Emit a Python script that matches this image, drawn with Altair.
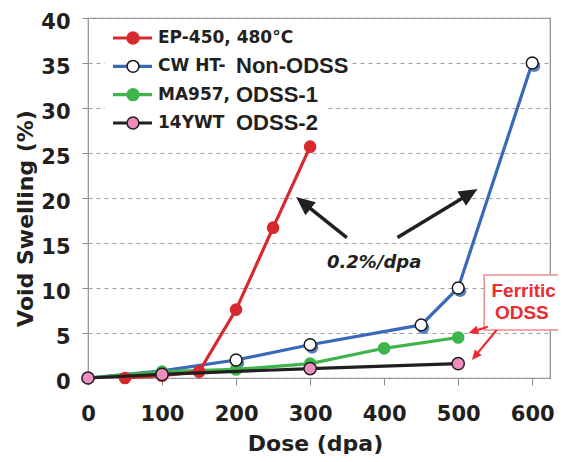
import math
import altair as alt
import pandas as pd

# ---------------- data ----------------
ep450_dose = [50, 100, 150, 200, 250, 300]
ep450_swell = [0.0, 0.25, 0.7, 7.6, 16.7, 25.7]

cwht_dose = [0, 100, 200, 300, 450, 500, 600]
cwht_swell = [0.0, 0.8, 2.0, 3.7, 5.9, 10.0, 35.0]

ma957_dose = [0, 100, 200, 300, 400, 500]
ma957_swell = [0.0, 0.7, 0.95, 1.6, 3.3, 4.5]

ywt_dose = [0, 100, 300, 500]
ywt_swell = [0.0, 0.4, 1.05, 1.6]

legend_first = ["EP-450, 480°C", "CW HT-", "MA957,", "14YWT"]
legend_second = ["", "Non-ODSS", "ODSS-1", "ODSS-2"]
x_ticks = [0, 100, 200, 300, 400, 500, 600]
y_ticks = [0, 5, 10, 15, 20, 25, 30, 35, 40]

# annotation arrows (data coordinates): tail x, tail y, tip x, tip y
black_arrows = [(349.6, 15.6, 281.1, 20.1), (418.0, 15.6, 526.1, 21.0)]
red_arrows = [(540.0, 5.7, 513.9, 5.0), (552.0, 5.33, 518.5, 2.0)]

RED = "#d7282e"
BLUE = "#3a69b9"
GREEN = "#3db54a"
BLACK = "#231f20"
PINK = "#ef8dbf"
ANNO_RED = "#ec2a30"

W, H = 462, 360
XMAX = 624
kx, ky = W / XMAX, H / 40

x_scale = alt.Scale(domain=[0, XMAX], nice=False, zero=False)
y_scale = alt.Scale(domain=[0, 40], nice=False)

x_axis = alt.Axis(values=x_ticks, title="Dose (dpa)", grid=False, domain=False,
                  tickSize=7, tickColor="#8c8c8c", tickWidth=1,
                  labelFont="DejaVu Sans", labelFontWeight="bold", labelFontSize=21,
                  labelColor=BLACK, labelBaseline="alphabetic", labelPadding=35,
                  labelFlush=False, labelOverlap=False,
                  titleFont="DejaVu Sans", titleFontWeight="bold", titleFontSize=22,
                  titleColor=BLACK, titleX=227, titleY=72, titleBaseline="alphabetic")
y_axis = alt.Axis(values=y_ticks, title="Void Swelling (%)", grid=True,
                  gridDash=[4, 4], gridColor="#a0a0a0", gridWidth=1, domain=False,
                  tickSize=6, tickColor="#8c8c8c", tickWidth=1,
                  labelFont="DejaVu Sans", labelFontWeight="bold", labelFontSize=21,
                  labelColor=BLACK, labelBaseline="alphabetic", labelOffset=10,
                  labelPadding=12, labelFlush=False, labelOverlap=False,
                  titleFont="DejaVu Sans", titleFontWeight="bold", titleFontSize=22,
                  titleColor=BLACK, titleX=-56, titleY=200, titleAngle=270,
                  titleBaseline="alphabetic")


def X(field="dose"):
    return alt.X(f"{field}:Q", scale=x_scale, axis=x_axis)


def Y(field="swell"):
    return alt.Y(f"{field}:Q", scale=y_scale, axis=y_axis)


def df(d, s):
    return pd.DataFrame({"dose": d, "swell": s})


ep = df(ep450_dose, ep450_swell)
cw = df(cwht_dose, cwht_swell)
ma = df(ma957_dose, ma957_swell)
yw = df(ywt_dose, ywt_swell)

blue_line = alt.Chart(cw).mark_line(color=BLUE, strokeWidth=3.2).encode(x=X(), y=Y())
blue_shadow = alt.Chart(cw).transform_filter("datum.dose >= 200").mark_point(
    filled=True, color=BLUE, size=150, opacity=0.85).encode(
    x=X(), y=Y(), xOffset=alt.value(2), yOffset=alt.value(3))
blue_pts = alt.Chart(cw).transform_filter("datum.dose >= 200").mark_point(
    filled=True, fill="white", stroke="#1a1a1a", strokeWidth=1.5, size=140, opacity=1).encode(
    x=X(), y=Y())

green_line = alt.Chart(ma).mark_line(color=GREEN, strokeWidth=3.2).encode(x=X(), y=Y())
green_pts = alt.Chart(ma).mark_point(filled=True, color=GREEN, size=160, opacity=1).encode(x=X(), y=Y())

red_line = alt.Chart(ep).mark_line(color=RED, strokeWidth=3.2).encode(x=X(), y=Y())
red_pts = alt.Chart(ep).mark_point(filled=True, color=RED, size=160, opacity=1).encode(x=X(), y=Y())

black_line = alt.Chart(yw).mark_line(color=BLACK, strokeWidth=3.2).encode(x=X(), y=Y())
pink_pts = alt.Chart(yw).mark_point(filled=True, fill=PINK, stroke=BLACK, strokeWidth=1.5,
                                    size=150, opacity=1).encode(x=X(), y=Y())


def arrow_frame(arrows, head_back):
    rows = []
    for (x1, y1, x2, y2) in arrows:
        dxp = (x2 - x1) * kx
        dyp = -(y2 - y1) * ky
        ln = math.hypot(dxp, dyp)
        ux, uy = dxp / ln, dyp / ln
        ang = math.degrees(math.atan2(ux, -uy)) % 360
        xe = x2 - ux * head_back / kx
        ye = y2 + uy * head_back / ky
        rows.append({"x1": x1, "y1": y1, "xe": xe, "ye": ye, "x2": x2, "y2": y2, "ang": ang})
    return pd.DataFrame(rows)


HEAD = "M0,0 L0.85,1.9 L-0.85,1.9 Z"

ba = arrow_frame(black_arrows, 12)
black_shafts = alt.Chart(ba).mark_rule(color=BLACK, strokeWidth=3.5).encode(
    x=X("x1"), y=Y("y1"), x2="xe:Q", y2="ye:Q")
black_heads = alt.Chart(ba).mark_point(shape=HEAD, filled=True, color=BLACK, size=380,
                                       opacity=1).encode(
    x=X("x2"), y=Y("y2"), angle=alt.Angle("ang:Q", scale=None))

ra = arrow_frame(red_arrows, 6)
red_shafts = alt.Chart(ra).mark_rule(color=ANNO_RED, strokeWidth=2.2).encode(
    x=X("x1"), y=Y("y1"), x2="xe:Q", y2="ye:Q")
red_heads = alt.Chart(ra).mark_point(shape=HEAD, filled=True, color=ANNO_RED, size=110,
                                     opacity=1).encode(
    x=X("x2"), y=Y("y2"), angle=alt.Angle("ang:Q", scale=None))

rate_text = alt.Chart(pd.DataFrame({"x": [386.5], "y": [12.74], "t": ["0.2%/dpa"]})).mark_text(
    font="DejaVu Sans", fontWeight="bold", fontStyle="italic", fontSize=18, color=BLACK,
    align="center", baseline="middle").encode(x=X("x"), y=Y("y"), text="t:N")

box = alt.Chart(pd.DataFrame({"x": [535.1], "x2": [660.0], "y": [11.44], "y2": [5.33]})).mark_rect(
    fill="white", stroke="#f08a8c", strokeWidth=1.5, clip=False).encode(
    x=X("x"), x2="x2:Q", y=Y("y"), y2="y2:Q")
box_text = alt.Chart(pd.DataFrame({"x": [588.5, 586.0], "y": [9.67, 7.17],
                                   "t": ["Ferritic", "ODSS"]})).mark_text(
    font="Liberation Sans", fontWeight="bold", fontSize=19, color=ANNO_RED,
    align="center", baseline="middle").encode(x=X("x"), y=Y("y"), text="t:N")

data_group = alt.layer(
    blue_line, blue_shadow, green_line, green_pts, red_line, red_pts, black_line,
    blue_pts, pink_pts, rate_text, black_shafts, black_heads, box, box_text,
    red_shafts, red_heads,
)

# ---------------- manual legend ----------------
leg = pd.DataFrame({
    "row": [0, 1, 2, 3],
    "first": legend_first,
    "second": legend_second,
    "line": [RED, BLUE, GREEN, BLACK],
    "fill": [RED, "white", GREEN, PINK],
    "stroke": [RED, "#1a1a1a", GREEN, BLACK],
})
ly = alt.Y("row:Q", scale=alt.Scale(domain=[0, 3], range=[20, 105]), axis=None)

bg1 = alt.Chart(pd.DataFrame({"a": [1]})).mark_rect(fill="white").encode(
    x=alt.value(17), x2=alt.value(264), y=alt.value(7), y2=alt.value(62))
bg2 = alt.Chart(pd.DataFrame({"a": [1]})).mark_rect(fill="white").encode(
    x=alt.value(17), x2=alt.value(237), y=alt.value(62), y2=alt.value(120))
leg_lines = alt.Chart(leg).mark_rule(strokeWidth=3.2).encode(
    x=alt.value(25), x2=alt.value(64), y=ly,
    color=alt.Color("line:N", scale=None, legend=None))
leg_pts = alt.Chart(leg).mark_point(filled=True, size=140, strokeWidth=1.5, opacity=1).encode(
    x=alt.value(45), y=ly,
    fill=alt.Fill("fill:N", scale=None, legend=None),
    stroke=alt.Stroke("stroke:N", scale=None, legend=None))
leg_t1 = alt.Chart(leg).mark_text(font="DejaVu Sans", fontWeight="bold", fontSize=17,
                                  color=BLACK, align="left", baseline="middle").encode(
    x=alt.value(70), y=ly, text="first:N")
leg_t2 = alt.Chart(leg).mark_text(font="Liberation Sans", fontWeight="bold", fontSize=22,
                                  color=BLACK, align="left", baseline="middle").encode(
    x=alt.value(148), y=ly, text="second:N")

legend_group = alt.layer(bg1, bg2, leg_lines, leg_pts, leg_t1, leg_t2)

chart = alt.layer(data_group, legend_group).resolve_scale(y="independent").properties(
    width=W, height=H,
    autosize=alt.AutoSizeParams(type="none"),
    padding={"left": 80, "top": 10, "right": 8, "bottom": 76},
).configure_view(stroke="#8c8c8c", strokeWidth=1.2)

chart.save("out.html", embed_options={"renderer": "svg", "actions": False})
